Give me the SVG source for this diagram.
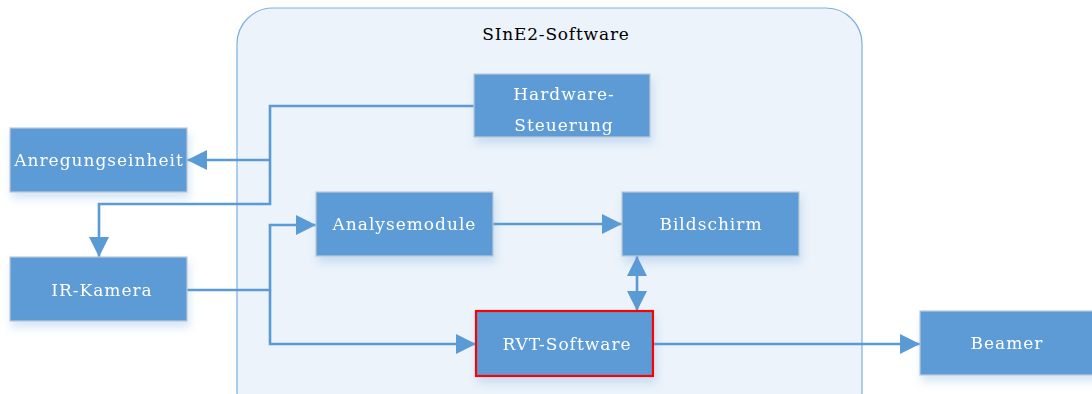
<svg xmlns="http://www.w3.org/2000/svg" width="1092" height="394" viewBox="0 0 1092 394">
<defs>
<style>
.node rect{fill:#5b9bd5;stroke:#bcc8d4;stroke-width:1.2}
.node text{fill:#ffffff;font-family:'DejaVu Serif',serif;font-size:17px;text-anchor:middle;letter-spacing:1px}
.conn path{fill:none;stroke:#5b9bd5;stroke-width:2.6}
.title{fill:#000;font-family:'DejaVu Serif',serif;font-size:17px;text-anchor:middle;letter-spacing:0.8px}
</style>
<marker id="ah" viewBox="0 0 20 20" refX="20" refY="10" markerWidth="20" markerHeight="20" markerUnits="userSpaceOnUse" orient="auto-start-reverse">
<path d="M0,0 L20,10 L0,20 Z" fill="#5b9bd5"/>
</marker>
<filter id="sh" x="-20%" y="-20%" width="140%" height="160%">
<feGaussianBlur in="SourceAlpha" stdDeviation="4"/>
<feOffset dx="2" dy="6" result="b"/>
<feFlood flood-color="#5b9bd5" flood-opacity="0.25"/>
<feComposite in2="b" operator="in"/>
<feMerge><feMergeNode/><feMergeNode in="SourceGraphic"/></feMerge>
</filter>
</defs>
<g id="container">
<rect x="237" y="8" width="625" height="420" rx="36" ry="36" fill="#ecf3fa" stroke="#7eb0de" stroke-width="1.2"/>
<text class="title" x="556" y="40">SInE2-Software</text>
</g>
<g class="conn" id="connectors">
<path d="M474,106 H270 V204 H99 V257" marker-end="url(#ah)"/>
<path d="M270,160 H187" marker-end="url(#ah)"/>
<path d="M187,290 H270 V225 H316" marker-end="url(#ah)"/>
<path d="M270,290 V344 H476" marker-end="url(#ah)"/>
<path d="M493,224 H622" marker-end="url(#ah)"/>
<path d="M637,256 V311" marker-start="url(#ah)" marker-end="url(#ah)"/>
<path d="M653,344 H920" marker-end="url(#ah)"/>
</g>
<g class="node" id="hardware" filter="url(#sh)">
<rect x="474" y="74" width="176" height="63"/>
<text x="564" y="100">Hardware-</text>
<text x="564" y="131">Steuerung</text>
</g>
<g class="node" id="anregung" filter="url(#sh)">
<rect x="10" y="128" width="177" height="64"/>
<text x="99" y="166">Anregungseinheit</text>
</g>
<g class="node" id="irkamera" filter="url(#sh)">
<rect x="10" y="257" width="177" height="64"/>
<text x="102" y="296">IR-Kamera</text>
</g>
<g class="node" id="analyse" filter="url(#sh)">
<rect x="316" y="192" width="177" height="64"/>
<text x="404.5" y="230">Analysemodule</text>
</g>
<g class="node" id="bildschirm" filter="url(#sh)">
<rect x="622" y="192" width="177" height="64"/>
<text x="711" y="230">Bildschirm</text>
</g>
<g class="node" id="rvt" filter="url(#sh)">
<rect x="476" y="311" width="177" height="65" style="stroke:#ff0000;stroke-width:2.2"/>
<text x="567" y="350">RVT-Software</text>
</g>
<g class="node" id="beamer" filter="url(#sh)">
<rect x="920" y="311" width="180" height="64"/>
<text x="1007" y="349">Beamer</text>
</g>
</svg>
